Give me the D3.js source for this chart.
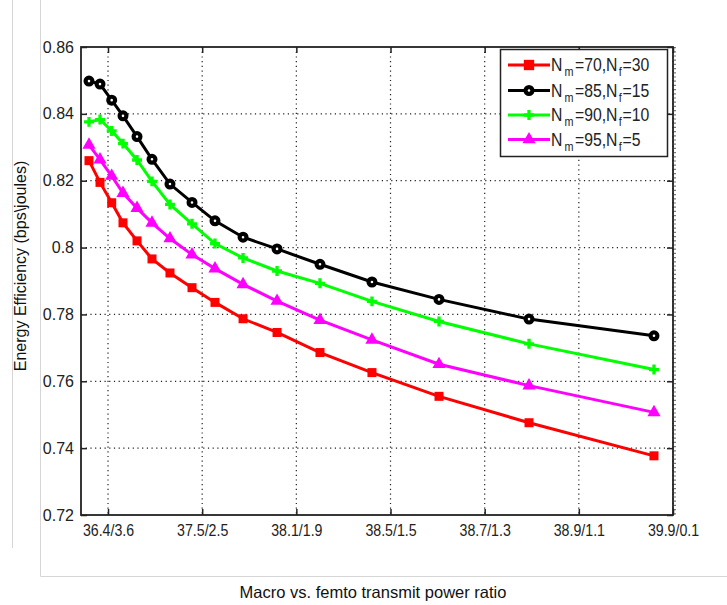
<!DOCTYPE html>
<html><head><meta charset="utf-8">
<script src="https://cdn.jsdelivr.net/npm/d3@7"></script>
<style>body{margin:0;background:#fff;} svg{display:block;font-family:"Liberation Sans",Arial,sans-serif;}</style>
</head><body><svg id="c" width="727" height="605"></svg>
<script>
// x positions in tick-index units (tick i at i)
const xTickLabels = ["36.4/3.6","37.5/2.5","38.1/1.9","38.5/1.5","38.7/1.3","38.9/1.1","39.9/0.1"];
const xTickPos = [0,1,2,3,4,5,6];
const xs = [-0.202,-0.085,0.039,0.159,0.308,0.467,0.658,0.892,1.136,1.434,1.795,2.251,2.803,3.515,4.471,5.798];
const yTicks = [0.72,0.74,0.76,0.78,0.8,0.82,0.84,0.86];
const redVals = [0.8260,0.8195,0.8134,0.8074,0.8020,0.7966,0.7924,0.7880,0.7836,0.7787,0.7746,0.7686,0.7626,0.7555,0.7476,0.7377];
const blackVals = [0.8498,0.8489,0.8441,0.8394,0.8332,0.8264,0.8190,0.8135,0.8080,0.8031,0.7996,0.7950,0.7897,0.7845,0.7786,0.7736];
const greenVals = [0.8376,0.8383,0.8349,0.8311,0.8262,0.8198,0.8129,0.8071,0.8012,0.7969,0.7930,0.7893,0.7839,0.7779,0.7712,0.7635];
const magentaVals = [0.8307,0.8263,0.8214,0.8163,0.8118,0.8074,0.8027,0.7979,0.7937,0.7890,0.7840,0.7783,0.7724,0.7651,0.7587,0.7507];
const seriesNames = [["N","m","=70,N","f","=30"],["N","m","=85,N","f","=15"],["N","m","=90,N","f","=10"],["N","m","=95,N","f","=5"]];

const series = [
  {vals:redVals,color:"#ff0000",marker:"square"},
  {vals:blackVals,color:"#000000",marker:"circle"},
  {vals:greenVals,color:"#00ff00",marker:"plus"},
  {vals:magentaVals,color:"#ff00ff",marker:"triangle"}
];

const svg = d3.select("#c");
const L=81,R=673,T=47,B=515;
const x = d3.scaleLinear().domain([-0.287,6]).range([L,R]);
const y = d3.scaleLinear().domain([0.72,0.86]).range([B,T]);

// light frame lines
svg.append("line").attr("x1",12.5).attr("x2",12.5).attr("y1",0).attr("y2",548).attr("stroke","#d6d6d6");
svg.append("path").attr("d","M40.5,0V576.5H727").attr("fill","none").attr("stroke","#d6d6d6");

// grid
const g = svg.append("g");
g.selectAll(".vg").data(xTickPos).join("line").attr("x1",d=>x(d)).attr("x2",d=>x(d)).attr("y1",T).attr("y2",B)
 .attr("stroke","#222").attr("stroke-width",1.2).attr("stroke-dasharray","1.2,3.5");
g.selectAll(".hg").data(yTicks.slice(1,-1)).join("line").attr("y1",d=>y(d)).attr("y2",d=>y(d)).attr("x1",L).attr("x2",R)
 .attr("stroke","#222").attr("stroke-width",1.2).attr("stroke-dasharray","1.2,3.5");
g.append("line").attr("x1",R+2).attr("x2",R+2).attr("y1",T).attr("y2",B).attr("stroke","#222").attr("stroke-width",1.2).attr("stroke-dasharray","1.2,3");

// axes
const ax = svg.append("g").attr("transform",`translate(0,${B})`)
  .call(d3.axisBottom(x).tickValues(xTickPos).tickFormat((d,i)=>xTickLabels[i]).tickSizeInner(-6).tickSizeOuter(0).tickPadding(9));
const ay = svg.append("g").attr("transform",`translate(${L},0)`)
  .call(d3.axisLeft(y).tickValues(yTicks).tickFormat(d=>d===0.8?"0.8":d3.format(".2f")(d)).tickSizeInner(-6).tickSizeOuter(0).tickPadding(7));
const ay2 = svg.append("g").attr("transform",`translate(${R},0)`)
  .call(d3.axisRight(y).tickValues(yTicks).tickFormat("").tickSizeInner(-6).tickSizeOuter(0));
const ax2 = svg.append("g").attr("transform",`translate(0,${T})`)
  .call(d3.axisTop(x).tickValues(xTickPos).tickFormat("").tickSizeInner(-6).tickSizeOuter(0));
[ax,ay,ay2,ax2].forEach(a=>{a.select(".domain").remove();a.selectAll("line").attr("stroke","#222").attr("stroke-width",1.5);});
[ax,ay].forEach(a=>a.attr("font-size",null).attr("font-family",null));
[ax,ay].forEach(a=>a.selectAll("text").attr("fill","#222"));
ay.selectAll(".tick text").style("font-size","16px");
ax.selectAll(".tick text").style("font-size","16.5px").attr("transform","scale(0.86,1)").attr("y",9);
svg.append("rect").attr("x",L).attr("y",T).attr("width",R-L).attr("height",B-T).attr("fill","none").attr("stroke","#222").attr("stroke-width",1.8);

// lines
const line = d3.line().x((d,i)=>x(xs[i])).y(d=>y(d));
function drawMarker(sel,type,color,s){
  if(type==="square") sel.append("rect").attr("x",-4.5*s).attr("y",-4.5*s).attr("width",9*s).attr("height",9*s).attr("fill",color);
  else if(type==="circle") sel.append("circle").attr("r",3.4*s).attr("fill","#fff").attr("stroke",color).attr("stroke-width",4.2);
  else if(type==="plus") sel.append("path").attr("d",d3.symbol(d3.symbolCross,55*s*s)()).attr("fill",color);
  else sel.append("path").attr("d",d3.symbol(d3.symbolTriangle,75*s*s)()).attr("fill",color);
}
series.forEach(s=>{
  svg.append("path").datum(s.vals).attr("d",line).attr("fill","none").attr("stroke",s.color).attr("stroke-width",3);
  s.vals.forEach((v,i)=>{
    const m = svg.append("g").attr("transform",`translate(${x(xs[i])},${y(v)})`);
    drawMarker(m,s.marker,s.color,1);
  });
});

// legend
const lg = svg.append("g");
lg.append("rect").attr("x",500.5).attr("y",49.5).attr("width",167).attr("height",107).attr("fill","#fff").attr("stroke","#222").attr("stroke-width",1.5);
const rowY = [65,90.5,115,139.5];
series.forEach((s,i)=>{
  lg.append("line").attr("x1",508).attr("x2",550).attr("y1",rowY[i]).attr("y2",rowY[i]).attr("stroke",s.color).attr("stroke-width",3);
  const m = lg.append("g").attr("transform",`translate(529,${rowY[i]})`);
  drawMarker(m,s.marker,s.color,s.marker==="square"?1.15:1);
  const n = seriesNames[i];
  const t = lg.append("text").attr("transform",`translate(551,${rowY[i]+6}) scale(0.9,1)`).style("font-size","17.5px").attr("fill","#222");
  t.append("tspan").text(n[0]);
  t.append("tspan").style("font-size","12px").attr("dy",5).attr("dx",2.5).text(n[1]);
  t.append("tspan").attr("dy",-5).attr("dx",1.5).text(n[2]);
  t.append("tspan").style("font-size","12px").attr("dy",5).attr("dx",1.5).text(n[3]);
  t.append("tspan").attr("dy",-5).attr("dx",1).text(n[4]);
});

// titles
svg.append("text").attr("x",373).attr("y",598).attr("text-anchor","middle").style("font-size","16.5px").attr("fill","#111").text("Macro vs. femto transmit power ratio");
svg.append("text").attr("transform","translate(26,266) rotate(-90)").attr("text-anchor","middle").style("font-size","16px").attr("fill","#111").text("Energy Efficiency (bps\\joules)");
</script></body></html>
